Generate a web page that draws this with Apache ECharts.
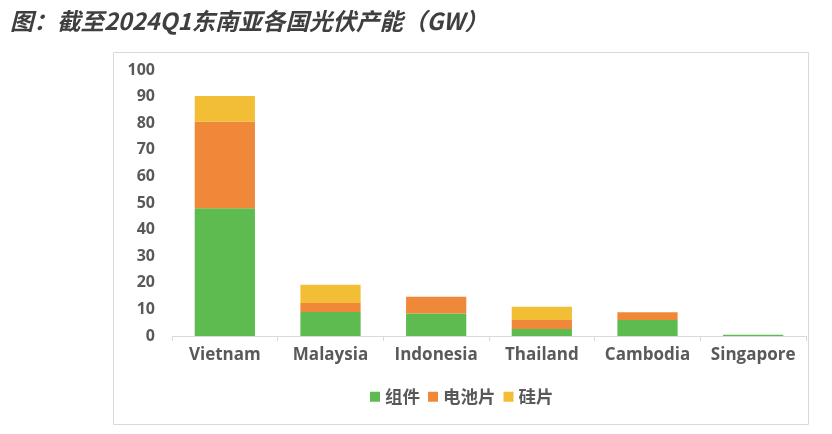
<!DOCTYPE html>
<html><head><meta charset="utf-8">
<script src="https://cdn.jsdelivr.net/npm/echarts@6/dist/echarts.min.js"></script>
<style>html,body{margin:0;padding:0;background:#fff}#c{width:832px;height:434px}</style>
</head><body><div id="c"></div>
<script>
const categories = ['Vietnam','Malaysia','Indonesia','Thailand','Cambodia','Singapore'];
const seriesNames = ['组件','电池片','硅片'];
const modules = [48, 9, 8.5, 2.6, 6, 0.5];
const cells = [32.5, 3.4, 6.3, 3.4, 2.9, 0];
const wafers = [9.7, 6.9, 0, 5, 0, 0];
const yTicks = [0,10,20,30,40,50,60,70,80,90,100];
const colors = ['#5DBB4F','#F0883A','#F2BE35'];

const chart = echarts.init(document.getElementById('c'));
const fontFam = '"Open Sans","Noto Sans CJK SC",sans-serif';
chart.setOption({
  animation:false,
  title:{text:'图：截至2024Q1东南亚各国光伏产能（GW）',left:5,top:4,
    textStyle:{fontSize:23.5,fontWeight:'bold',fontStyle:'italic',color:'#3f3f3f',fontFamily:'"Noto Sans CJK SC",sans-serif'}},
  graphic:[{type:'rect',shape:{x:113.5,y:52.5,width:695,height:372},style:{fill:'none',stroke:'#d9d9d9',lineWidth:1},silent:true}],
  legend:{top:383,left:365,itemWidth:10,itemHeight:10,itemGap:8,icon:'rect',
    textStyle:{fontSize:17.5,fontWeight:'bold',color:'#595959',fontFamily:'"Noto Sans CJK SC",sans-serif'},
    data:seriesNames},
  grid:{left:172,right:26,top:70,bottom:98,containLabel:false},
  xAxis:{type:'category',data:categories,
    axisLine:{lineStyle:{color:'#d9d9d9'}},
    axisTick:{show:true,length:5,lineStyle:{color:'#d9d9d9'}},
    axisLabel:{interval:0,fontSize:17,fontWeight:'bold',color:'#595959',margin:11,fontFamily:fontFam}},
  yAxis:{type:'value',min:0,max:100,interval:10,
    axisLine:{show:false},axisTick:{show:false},splitLine:{show:false},
    axisLabel:{fontSize:16,fontWeight:'bold',color:'#595959',margin:17,fontFamily:fontFam,
      formatter:v=>yTicks.includes(v)?String(v):''}},
  series:[
    {name:seriesNames[0],type:'bar',stack:'a',data:modules,barWidth:'57%',itemStyle:{color:colors[0]}},
    {name:seriesNames[1],type:'bar',stack:'a',data:cells,itemStyle:{color:colors[1]}},
    {name:seriesNames[2],type:'bar',stack:'a',data:wafers,itemStyle:{color:colors[2]}}
  ]
});
</script></body></html>
